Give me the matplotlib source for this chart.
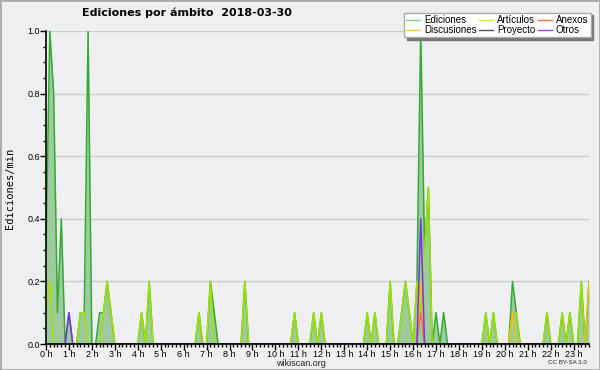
import numpy as np
import matplotlib
matplotlib.use('Agg')
import matplotlib.pyplot as plt
from matplotlib.lines import Line2D
from matplotlib.patches import Rectangle
from matplotlib.ticker import MultipleLocator

# valores cada 10 minutos (00:00 ... 23:40), ediciones por minuto
ediciones = [
    0.3, 1.0, 0.8, 0.1, 0.4, 0, 0.1, 0, 0, 0.1, 0.1, 1.0,
    0, 0, 0.1, 0.1, 0.2, 0.1, 0, 0, 0, 0, 0, 0,
    0, 0.1, 0, 0.2, 0, 0, 0, 0, 0, 0, 0, 0,
    0, 0, 0, 0, 0.1, 0, 0, 0.2, 0.1, 0, 0, 0,
    0, 0, 0, 0, 0.2, 0, 0, 0, 0, 0, 0, 0,
    0, 0, 0, 0, 0, 0.1, 0, 0, 0, 0, 0.1, 0,
    0.1, 0, 0, 0, 0, 0, 0, 0, 0, 0, 0, 0,
    0.1, 0, 0.1, 0, 0, 0, 0.2, 0, 0, 0.1, 0.2, 0.1,
    0, 0.2, 1.0, 0.3, 0.5, 0, 0.1, 0, 0.1, 0, 0, 0,
    0, 0, 0, 0, 0, 0, 0, 0.1, 0, 0.1, 0, 0,
    0, 0, 0.2, 0.1, 0, 0, 0, 0, 0, 0, 0, 0.1,
    0, 0, 0, 0.1, 0, 0.1, 0, 0, 0.2, 0, 0.2,
]
articulos = [
    0.1, 0.2, 0, 0, 0, 0, 0, 0, 0, 0.1, 0.1, 0,
    0, 0, 0, 0.1, 0.2, 0.1, 0, 0, 0, 0, 0, 0,
    0, 0.1, 0, 0.2, 0, 0, 0, 0, 0, 0, 0, 0,
    0, 0, 0, 0, 0.1, 0, 0, 0.2, 0, 0, 0, 0,
    0, 0, 0, 0, 0.2, 0, 0, 0, 0, 0, 0, 0,
    0, 0, 0, 0, 0, 0.1, 0, 0, 0, 0, 0.1, 0,
    0.1, 0, 0, 0, 0, 0, 0, 0, 0, 0, 0, 0,
    0.1, 0, 0.1, 0, 0, 0, 0.2, 0, 0, 0.1, 0.2, 0.1,
    0, 0.2, 0.1, 0.3, 0.5, 0, 0, 0, 0, 0, 0, 0,
    0, 0, 0, 0, 0, 0, 0, 0.1, 0, 0.1, 0, 0,
    0, 0, 0.1, 0.1, 0, 0, 0, 0, 0, 0, 0, 0.1,
    0, 0, 0, 0.1, 0, 0.1, 0, 0, 0.2, 0, 0,
]
# series casi vacías: (intervalo, valor)
discusiones_pts = {98: 0.2, 122: 0.1, 142: 0.2}
anexos_pts = {98: 0.1}
proyecto_pts = {}
otros_pts = {6: 0.1, 98: 0.4}

horas = ['%d h' % h for h in range(24)]

n = len(ediciones)
t = np.arange(n) / 6.0


def serie(pts):
    s = np.zeros(n)
    for k, v in pts.items():
        s[k] = v
    return s


fondo = '#eeeff1'
letra = 'Liberation Sans'
fig = plt.figure(figsize=(6, 3.7), dpi=100, facecolor=fondo)
ax = fig.add_axes([46 / 600, 1 - 344 / 370, 543 / 600, 313 / 370])
ax.set_facecolor(fondo)

ax.fill_between(t, ediciones, color='#9ecb9e', lw=0, zorder=2)
ax.plot(t, ediciones, color='#33aa33', lw=1.1, zorder=3)
ax.plot(t, articulos, color='#a2e000', lw=1.1, zorder=4)
ax.plot(t, serie(discusiones_pts), color='#f5c000', lw=1.0, zorder=5)
ax.plot(t, serie(anexos_pts), color='#ff6a3d', lw=1.0, zorder=5)
ax.plot(t, serie(proyecto_pts), color='#555555', lw=1.0, zorder=1)
ax.plot(t, serie(otros_pts), color='#7b2ef0', lw=1.1, zorder=6)

ax.set_xlim(0, t[-1])
ax.set_ylim(0, 1.0)
ax.set_xticks(range(24))
ax.set_xticklabels(horas, family=letra)
ax.xaxis.set_minor_locator(MultipleLocator(1 / 6))
ax.set_yticks(np.arange(0, 1.01, 0.2))
ax.set_yticklabels(['%.1f' % v for v in np.arange(0, 1.01, 0.2)], family=letra)
ax.yaxis.set_minor_locator(MultipleLocator(0.05))
ax.tick_params(which='major', length=4, width=1, labelsize=6.5, pad=0.3, colors='black')
ax.tick_params(which='minor', length=2.5, width=1)

ax.yaxis.grid(True, color='#cccccc', lw=1)
ax.set_axisbelow(True)
for s in ['top', 'right']:
    ax.spines[s].set_visible(False)
for s in ['left', 'bottom']:
    ax.spines[s].set_linewidth(1.2)
    ax.spines[s].set_zorder(7)

fig.text(187 / 600, 1 - 13 / 370, 'Ediciones por ámbito  2018-03-30',
         ha='center', va='center', fontsize=8, fontweight='bold')
fig.text(10 / 600, 1 - 188 / 370, 'Ediciones/min', rotation=90,
         family='DejaVu Sans Mono', fontsize=7.5, ha='center', va='center')
fig.text(301 / 600, 1 - 364 / 370, 'wikiscan.org', fontsize=6.5, family=letra,
         ha='center', va='center', color='#222222')
fig.text(567 / 600, 1 - 363 / 370, 'CC BY-SA 3.0', fontsize=4.5, family=letra,
         ha='center', va='center', color='#222222')

# leyenda
nombres = ['Ediciones', 'Discusiones', 'Artículos', 'Proyecto', 'Anexos', 'Otros']
colores = ['#88cc88', '#ffcc33', '#ccee44', '#555555', '#ff7744', '#9944ff']
handles = [Line2D([], [], color=c, lw=1) for c in colores]
fig.legend(handles, nombres, ncol=3, loc='upper left',
           bbox_to_anchor=(404 / 600, 1 - 12.5 / 370), frameon=True,
           fancybox=False, edgecolor='#aaaaaa', facecolor='white', framealpha=1,
           prop={'family': letra, 'size': 7}, handlelength=1.4, handletextpad=0.4,
           columnspacing=0.3, labelspacing=0.0, borderpad=0.25, borderaxespad=0,
           shadow={'color': '#777777', 'alpha': 1})

fig.add_artist(Rectangle((0, 0), 1, 1, transform=fig.transFigure, fill=False,
                         edgecolor='#aaaaaa', lw=2))

fig.savefig('out.png', dpi=100, facecolor=fig.get_facecolor())
